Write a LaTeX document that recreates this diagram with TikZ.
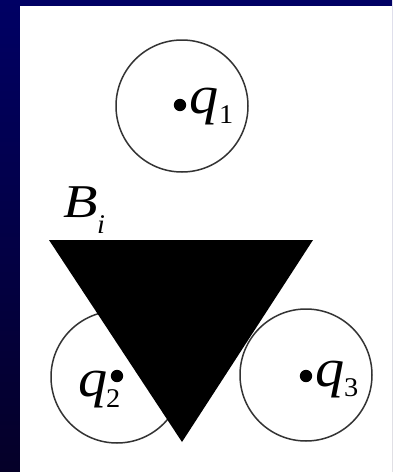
\documentclass[tikz,border=0pt]{standalone}
\usepackage{fontspec}
\setmainfont{Liberation Serif}
\begin{document}
\begin{tikzpicture}[x=1pt,y=-1pt,
  ring/.style={draw=black!80,line width=1.5pt},
  dotmark/.style={fill=black},
  bigtxt/.style={anchor=base west,inner sep=0pt,xscale=1.08,font=\fontsize{54}{60}\selectfont\itshape},
  btxt/.style={anchor=base west,inner sep=0pt,xscale=1.2,font=\fontsize{47}{52}\selectfont\itshape},
  subtxt/.style={anchor=base west,inner sep=0pt,xscale=1.05,font=\fontsize{27}{30}\selectfont},
  subit/.style={anchor=base west,inner sep=0pt,xscale=1.05,font=\fontsize{27}{30}\selectfont\itshape}]
\useasboundingbox (0,0) rectangle (392,472);
\shade[top color={rgb,255:red,0;green,0;blue,100},bottom color={rgb,255:red,5;green,0;blue,40}] (0,0) rectangle (392,472);
\fill[white] (20,6) rectangle (392,472);
% circles
\draw[ring] (182,106) circle (66);
\draw[ring] (117,377) circle (66);
\draw[ring] (306,375) circle (66);
% triangle
\fill[black] (49,240) coordinate (t1) -- (313,240) coordinate (t2) -- (182,442) coordinate (t3) -- cycle;
% dots
\fill[dotmark] (180,105) circle (6.2);
\fill[dotmark] (117,376) circle (6.2);
\fill[dotmark] (306,376) circle (6.2);
% labels
\node[bigtxt] (q1) at (189,113) {q};
\node[subtxt] (s1) at (219,123) {1};
\node[bigtxt] (q2) at (78,396) {q};
\node[subtxt] (s2) at (106,407) {2};
\node[bigtxt] (q3) at (315,386) {q};
\node[subtxt] (s3) at (344,396) {3};
\node[btxt] (B) at (63,217) {B};
\node[subit] (Bi) at (97,233) {i};
\end{tikzpicture}
\end{document}
